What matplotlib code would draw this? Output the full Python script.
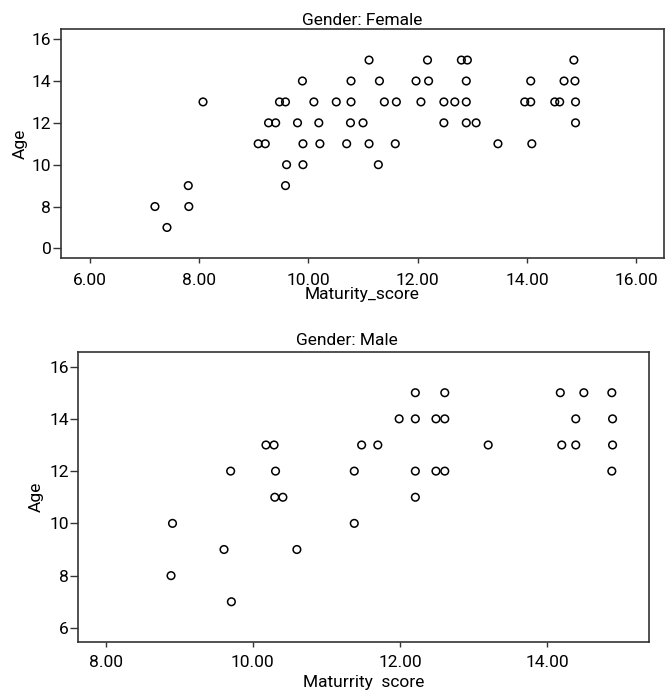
import matplotlib
matplotlib.use("Agg")
import matplotlib.pyplot as plt

plt.rcParams['font.family'] = ['Roboto', 'DejaVu Sans']

# Female panel data (Maturity score vs Age)
female_score = [7.19, 7.41, 7.80, 7.81, 8.07, 9.08, 9.21, 9.27, 9.40, 9.47,
                9.58, 9.89, 10.10, 9.80, 10.19, 9.90, 10.21, 9.60, 9.90, 9.58,
                10.51, 10.78, 10.78, 11.11, 11.30, 11.39, 11.61, 10.77, 11.00, 10.70,
                11.11, 11.59, 11.28, 11.97, 12.20, 12.18, 12.06, 12.48, 12.68, 12.89,
                12.48, 12.89, 13.07, 12.80, 12.91, 12.89, 13.47, 13.96, 14.07, 14.07,
                14.09, 14.51, 14.60, 14.68, 14.88, 14.86, 14.89, 14.89]
female_age = [8, 7, 9, 8, 13, 11, 11, 12, 12, 13,
              13, 14, 13, 12, 12, 11, 11, 10, 10, 9,
              13, 13, 14, 15, 14, 13, 13, 12, 12, 11,
              11, 11, 10, 14, 14, 15, 13, 13, 13, 13,
              12, 12, 12, 15, 15, 14, 11, 13, 13, 14,
              11, 13, 13, 14, 14, 15, 13, 12]

# Male panel data
male_score = [8.91, 8.89, 9.61, 9.70, 9.71, 10.18, 10.29, 10.31, 10.30, 10.41,
              10.60, 11.38, 11.38, 11.48, 11.70, 11.99, 12.21, 12.21, 12.21, 12.21,
              12.49, 12.61, 12.61, 12.49, 12.61, 13.20, 14.18, 14.50, 14.88, 14.39,
              14.89, 14.20, 14.39, 14.89, 14.88]
male_age = [10, 8, 9, 12, 7, 13, 13, 12, 11, 11,
            9, 12, 10, 13, 13, 14, 14, 15, 12, 11,
            14, 14, 15, 12, 12, 13, 15, 15, 15, 14,
            14, 13, 13, 13, 12]

female_xticks = [6, 8, 10, 12, 14, 16]
female_yticks = [6, 8, 10, 12, 14, 16]
female_ylabels = ['0', '8', '10', '12', '14', '16']
male_xticks = [8, 10, 12, 14]
male_yticks = [6, 8, 10, 12, 14, 16]

fig = plt.figure(figsize=(6.66, 6.93), dpi=100)
ax1 = fig.add_axes([0.0916, 0.6277, 0.9054, 0.3303])
ax2 = fig.add_axes([0.1176, 0.0732, 0.8574, 0.4193])


def style(ax, xpad):
    for sp in ax.spines.values():
        sp.set_linewidth(1.2)
        sp.set_color('#333333')
    ax.tick_params(axis='y', direction='out', length=5.5, width=1.0, pad=1.5,
                   labelsize=12.5, color='#333333')
    ax.tick_params(axis='x', direction='out', length=3.5, width=1.0, pad=xpad,
                   labelsize=12.5, color='#333333')


ax1.scatter(female_score, female_age, s=30, facecolors='none',
            edgecolors='black', linewidths=1.1)
ax1.set_xlim(5.47, 16.51)
ax1.set_ylim(5.54, 16.48)
ax1.set_xticks(female_xticks)
ax1.set_xticklabels([f'{v:.2f}' for v in female_xticks])
ax1.set_yticks(female_yticks)
ax1.set_yticklabels(female_ylabels)
style(ax1, 7)
ax1.set_xlabel('Maturity_score', fontsize=12.5, va='center')
ax1.xaxis.set_label_coords(0.5, -0.1616)
ax1.set_ylabel('Age', fontsize=12.5, va='center', ha='center')
ax1.yaxis.set_label_coords(-0.0668, 0.5)
ax1.set_title('Gender: Female', fontsize=12.5, y=1.039, pad=0, va='center')

ax2.scatter(male_score, male_age, s=30, facecolors='none',
            edgecolors='black', linewidths=1.1)
ax2.set_xlim(7.63, 15.39)
ax2.set_ylim(5.45, 16.57)
ax2.set_xticks(male_xticks)
ax2.set_xticklabels([f'{v:.2f}' for v in male_xticks])
ax2.set_yticks(male_yticks)
style(ax2, 5.5)
ax2.set_xlabel('Maturrity  score', fontsize=12.5, va='center')
ax2.xaxis.set_label_coords(0.5, -0.140)
ax2.set_ylabel('Age', fontsize=12.5, va='center', ha='center')
ax2.yaxis.set_label_coords(-0.0729, 0.5)
t = ax2.set_title('Gender: Male', fontsize=12.5, y=1.040, pad=0, va='center')
t.set_x(0.4706)

fig.savefig('out.png', dpi=100)
